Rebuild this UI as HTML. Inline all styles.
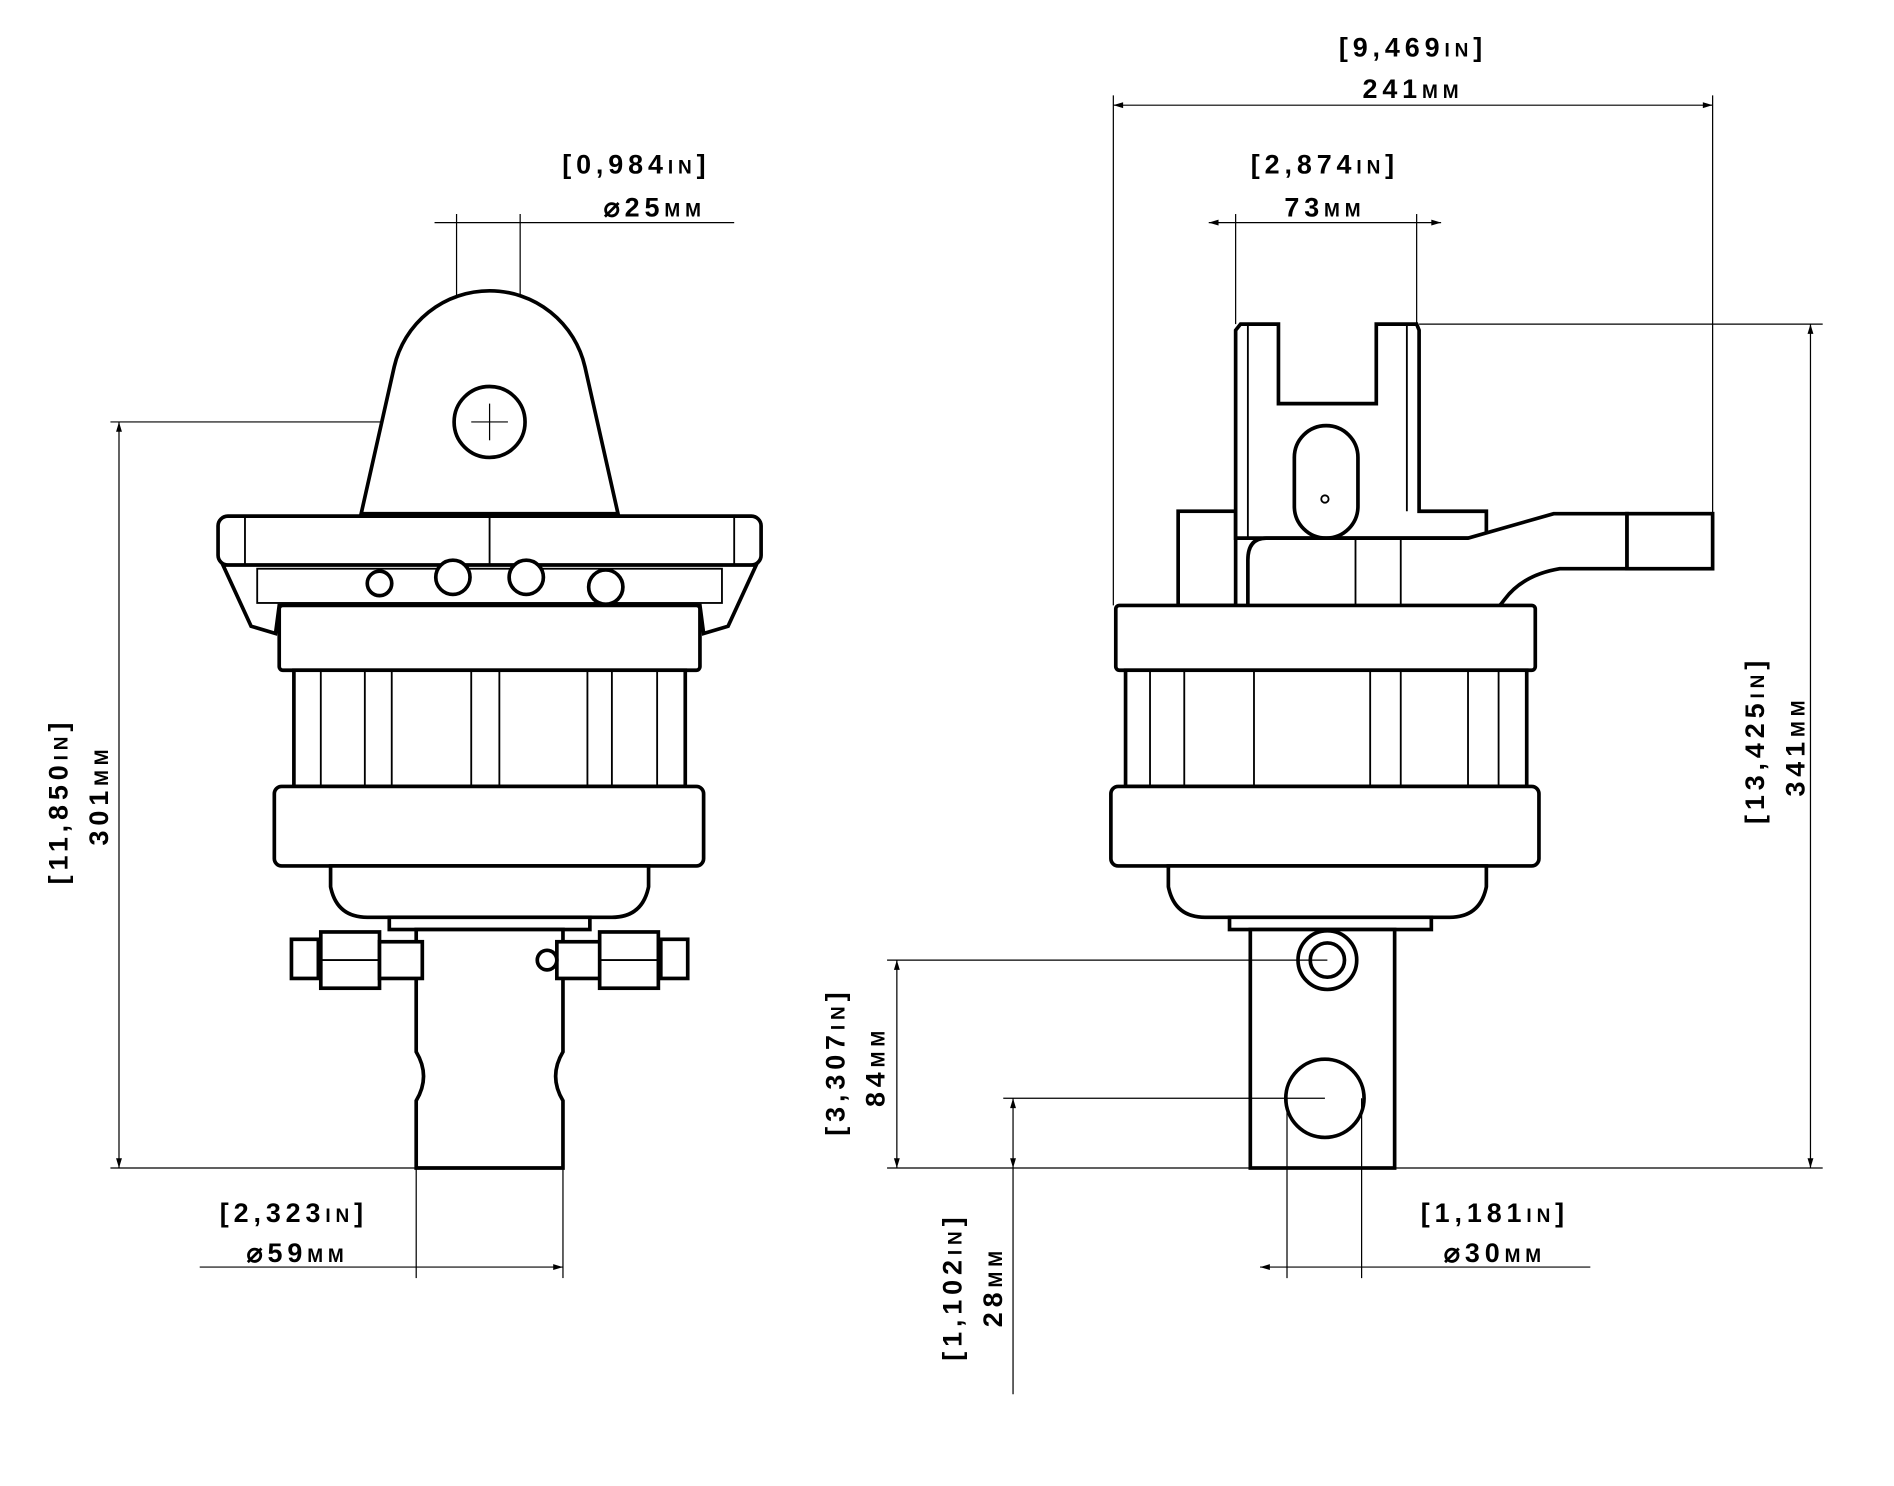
<!DOCTYPE html>
<html><head><meta charset="utf-8"><style>
html,body{margin:0;padding:0;background:#fff;}
svg{display:block}
text{font-family:"Liberation Sans",sans-serif;font-variant:small-caps;font-size:22px;font-weight:bold;letter-spacing:4px;fill:#000;text-anchor:middle}
.t{stroke:#000;stroke-width:1;fill:none}
.s{stroke:#000;stroke-width:3;fill:#fff}
.m{stroke:#000;stroke-width:1.5;fill:none}
</style></head><body>
<svg width="1894" height="1486" viewBox="0 0 1548 1215" xmlns="http://www.w3.org/2000/svg">
<defs><marker id="a" viewBox="0 0 10 10" refX="10" refY="5" markerWidth="10" markerHeight="8" orient="auto-start-reverse"><path d="M0,2 L10,5 L0,8z" fill="#000"/></marker></defs>

<!-- LEFT VIEW -->
<text x="520" y="142">[0,984in]</text>
<text x="535" y="177">⌀25mm</text>
<line class="t" x1="355" y1="182" x2="600" y2="182"/>
<line class="t" x1="373" y1="175" x2="373" y2="345"/>
<line class="t" x1="425" y1="175" x2="425" y2="345"/>
<line class="t" x1="90" y1="345" x2="362" y2="345"/>
<line class="t" x1="97" y1="345" x2="97" y2="955" marker-start="url(#a)" marker-end="url(#a)"/>
<line class="t" x1="90" y1="955" x2="340" y2="955"/>
<text transform="translate(55,655) rotate(-90)">[11,850in]</text>
<text transform="translate(88,650) rotate(-90)">301mm</text>

<path class="s" d="M295,420 L322,300 A80,80 0 0 1 478,300 L505,420 Z"/>
<circle class="s" cx="400" cy="345" r="29"/>
<line class="t" x1="385" y1="345" x2="415" y2="345"/><line class="t" x1="400" y1="330" x2="400" y2="360"/>
<rect class="s" x="178" y="422" width="444" height="40" rx="8"/>
<line class="m" x1="200" y1="422" x2="200" y2="462"/><line class="m" x1="600" y1="422" x2="600" y2="462"/>
<line class="m" x1="400" y1="422" x2="400" y2="465"/>
<path class="s" d="M182,462 L205,512 L225,518 L228,495 L572,495 L575,518 L595,512 L618,462 Z"/>
<rect class="m" x="210" y="465" width="380" height="28"/>
<circle class="s" cx="310" cy="477" r="10"/><circle class="s" cx="370" cy="472" r="14"/><circle class="s" cx="430" cy="472" r="14"/><circle class="s" cx="495" cy="480" r="14"/>
<rect class="s" x="228" y="495" width="344" height="53" rx="3"/>
<rect class="s" x="240" y="548" width="320" height="95"/>
<g class="m"><line x1="262" y1="548" x2="262" y2="643"/><line x1="298" y1="548" x2="298" y2="643"/><line x1="320" y1="548" x2="320" y2="643"/><line x1="385" y1="548" x2="385" y2="643"/><line x1="408" y1="548" x2="408" y2="643"/><line x1="480" y1="548" x2="480" y2="643"/><line x1="500" y1="548" x2="500" y2="643"/><line x1="537" y1="548" x2="537" y2="643"/></g>
<rect class="s" x="224" y="643" width="351" height="65" rx="6"/>
<path class="s" d="M270,708 L530,708 L530,725 Q525,750 500,750 L300,750 Q275,750 270,725 Z"/>
<rect class="s" x="318" y="750" width="164" height="10"/>
<path class="s" d="M340,760 L460,760 L460,860 Q448,880 460,900 L460,955 L340,955 L340,900 Q352,880 340,860 Z"/>
<g class="s"><rect x="238" y="768" width="22" height="32"/><rect x="262" y="762" width="48" height="46"/><rect x="310" y="770" width="35" height="30"/>
<rect x="540" y="768" width="22" height="32"/><rect x="490" y="762" width="48" height="46"/><rect x="455" y="770" width="35" height="30"/>
<circle cx="447" cy="785" r="8"/></g>
<line class="m" x1="262" y1="785" x2="310" y2="785"/><line class="m" x1="490" y1="785" x2="538" y2="785"/>

<text x="240" y="999">[2,323in]</text>
<text x="243" y="1032">⌀59mm</text>
<line class="t" x1="163" y1="1036" x2="460" y2="1036" marker-end="url(#a)"/>
<line class="t" x1="340" y1="955" x2="340" y2="1045"/><line class="t" x1="460" y1="955" x2="460" y2="1045"/>

<!-- RIGHT VIEW -->
<text x="1155" y="46">[9,469in]</text>
<text x="1155" y="80">241mm</text>
<line class="t" x1="910" y1="86" x2="1400" y2="86" marker-start="url(#a)" marker-end="url(#a)"/>
<line class="t" x1="910" y1="78" x2="910" y2="495"/><line class="t" x1="1400" y1="78" x2="1400" y2="420"/>
<text x="1083" y="142">[2,874in]</text>
<text x="1083" y="177">73mm</text>
<line class="t" x1="988" y1="182" x2="1178" y2="182" marker-start="url(#a)" marker-end="url(#a)"/>
<line class="t" x1="1010" y1="175" x2="1010" y2="265"/><line class="t" x1="1158" y1="175" x2="1158" y2="265"/>
<line class="t" x1="1160" y1="265" x2="1490" y2="265"/>
<line class="t" x1="1480" y1="265" x2="1480" y2="955" marker-start="url(#a)" marker-end="url(#a)"/>
<text transform="translate(1442,605) rotate(-90)">[13,425in]</text>
<text transform="translate(1475,610) rotate(-90)">341mm</text>

<rect class="s" x="963" y="418" width="47" height="77"/>
<path class="s" d="M1010,270 L1014,265 L1045,265 L1045,330 L1125,330 L1125,265 L1158,265 L1160,270 L1160,418 L1215,418 L1215,440 L1010,440 Z"/>
<line class="m" x1="1020" y1="265" x2="1020" y2="440"/><line class="m" x1="1150" y1="265" x2="1150" y2="418"/>
<rect class="s" x="1058" y="348" width="52" height="92" rx="26"/>
<circle class="m" cx="1083" cy="408" r="3"/>
<path class="s" d="M1035,440 L1200,440 L1270,420 L1330,420 L1330,465 L1275,465 Q1245,470 1230,490 Q1210,518 1160,518 L1035,518 Q1020,518 1020,500 L1020,458 Q1020,440 1035,440 Z"/>
<line class="m" x1="1108" y1="440" x2="1108" y2="518"/><line class="m" x1="1145" y1="440" x2="1145" y2="518"/>
<rect class="s" x="1330" y="420" width="70" height="45"/>
<rect class="s" x="912" y="495" width="343" height="53" rx="3"/>
<rect class="s" x="920" y="548" width="328" height="95"/>
<g class="m"><line x1="940" y1="548" x2="940" y2="643"/><line x1="968" y1="548" x2="968" y2="643"/><line x1="1025" y1="548" x2="1025" y2="643"/><line x1="1120" y1="548" x2="1120" y2="643"/><line x1="1145" y1="548" x2="1145" y2="643"/><line x1="1200" y1="548" x2="1200" y2="643"/><line x1="1225" y1="548" x2="1225" y2="643"/></g>
<rect class="s" x="908" y="643" width="350" height="65" rx="6"/>
<path class="s" d="M955,708 L1215,708 L1215,725 Q1210,750 1185,750 L985,750 Q960,750 955,725 Z"/>
<rect class="s" x="1005" y="750" width="165" height="10"/>
<rect class="s" x="1022" y="760" width="118" height="195"/>
<circle class="s" cx="1085" cy="785" r="24"/><circle class="s" cx="1085" cy="785" r="14"/>
<circle class="s" cx="1083" cy="898" r="32"/>

<line class="t" x1="725" y1="785" x2="1085" y2="785"/>
<line class="t" x1="733" y1="785" x2="733" y2="955" marker-start="url(#a)" marker-end="url(#a)"/>
<text transform="translate(690,868) rotate(-90)">[3,307in]</text>
<text transform="translate(723,872) rotate(-90)">84mm</text>
<line class="t" x1="725" y1="955" x2="1490" y2="955"/>
<line class="t" x1="820" y1="898" x2="1083" y2="898"/>
<line class="t" x1="828" y1="898" x2="828" y2="955" marker-start="url(#a)" marker-end="url(#a)"/>
<line class="t" x1="828" y1="955" x2="828" y2="1140"/>
<text transform="translate(786,1052) rotate(-90)">[1,102in]</text>
<text transform="translate(819,1052) rotate(-90)">28mm</text>
<text x="1222" y="999">[1,181in]</text>
<text x="1222" y="1032">⌀30mm</text>
<line class="t" x1="1030" y1="1036" x2="1300" y2="1036" marker-start="url(#a)"/>
<line class="t" x1="1052" y1="898" x2="1052" y2="1045"/><line class="t" x1="1113" y1="898" x2="1113" y2="1045"/>
</svg>
</body></html>
